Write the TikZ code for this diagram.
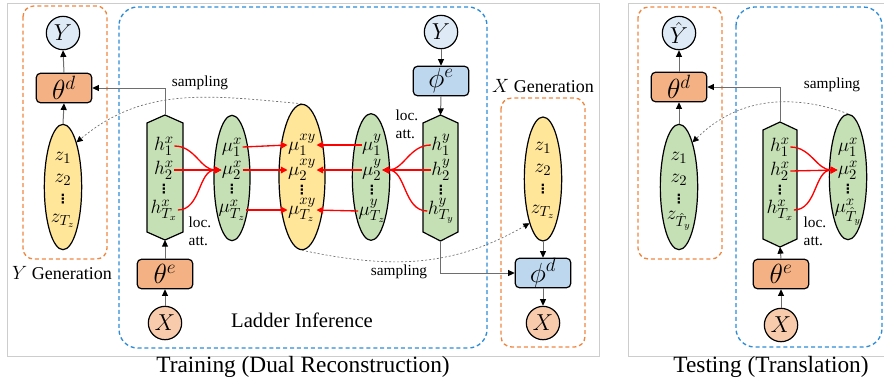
\documentclass[tikz,border=0pt]{standalone}
\usepackage{fontspec}
\setmainfont{Liberation Serif}
\newfontfamily\dejavu{DejaVu Sans}
\usetikzlibrary{arrows.meta,shapes.geometric}

\definecolor{framegray}{RGB}{205,205,205}
\definecolor{linegray}{RGB}{110,110,110}
\definecolor{gendash}{RGB}{240,135,65}
\definecolor{laddash}{RGB}{45,140,215}
\definecolor{thetafill}{RGB}{244,177,131}
\definecolor{xfill}{RGB}{248,203,173}
\definecolor{yfill}{RGB}{222,235,247}
\definecolor{phifill}{RGB}{189,215,238}
\definecolor{greenfill}{RGB}{197,224,180}
\definecolor{zfill}{RGB}{255,230,153}

\newcommand{\vdotz}{{\dejavu\bfseries ⋮}}

\tikzset{every picture/.style={line width=0.75pt}}
\tikzset{
  panel/.style={draw=framegray, line width=0.6pt},
  genbox/.style={draw=gendash, line width=1pt, dash pattern=on 3pt off 2.2pt, rounded corners=8pt},
  ladbox/.style={draw=laddash, line width=1pt, dash pattern=on 3pt off 2.2pt, rounded corners=14pt},
  thetabox/.style={draw=black, fill=thetafill, line width=0.9pt, rounded corners=3pt, minimum width=41.5pt, minimum height=22pt, inner sep=0pt, font=\fontsize{20}{22}\selectfont},
  phibox/.style={thetabox, fill=phifill},
  xcirc/.style={circle, draw=black, fill=xfill, line width=0.9pt, minimum size=25pt, inner sep=0pt, font=\fontsize{18.5}{20}\selectfont},
  ycirc/.style={xcirc, fill=yfill},
  zell/.style={ellipse, draw=black, fill=zfill, line width=0.9pt, minimum width=28pt, minimum height=94pt, inner sep=0pt},
  muell/.style={zell, fill=greenfill},
  hexbox/.style={draw=black, fill=greenfill, line width=0.9pt},
  lab/.style={inner sep=0pt, font=\fontsize{15}{16}\selectfont},
  vdot/.style={inner sep=0pt, font=\fontsize{9.5}{10}\selectfont},
  note/.style={inner sep=0.75pt, align=left, font=\fontsize{11.5}{13.5}\selectfont},
  gentext/.style={inner sep=0.75pt, font=\fontsize{13.5}{15}\selectfont},
  title/.style={inner sep=0.75pt, font=\fontsize{17.5}{19}\selectfont},
  garrow/.style={draw=linegray, line width=0.75pt, -{Triangle[length=5pt,width=4.5pt,color=black]}},
  rarrow/.style={draw=red, line width=1pt, -{Triangle[length=5pt,width=5pt]}},
  samp/.style={draw=linegray, line width=0.5pt, dash pattern=on 1.5pt off 1.5pt, -{Triangle[length=4.5pt,width=4.5pt,color=black]}}
}

\begin{document}
\begin{tikzpicture}[x=0.75pt,y=0.75pt,yscale=-1,xscale=1]
\useasboundingbox (0,0) rectangle (884,380);

%Panels
\draw [panel] (7,3) rectangle (599,356);
\draw [panel] (628,3) rectangle (890,356);
\draw [genbox] (23,6) rectangle (107,259);
\draw [ladbox] (119,7) rectangle (487,348);
\draw [genbox] (501,98) rectangle (585,347);
\draw [genbox] (638,7) rectangle (722,259);
\draw [ladbox] (736,7) rectangle (882,347);

%Y generation (training)
\node [ycirc] (Yl) at (63,33) {$Y$};
\node [thetabox] (thetadl) at (64,88) {$\theta^{d}$};
\node [zell] (zY) at (63,187) {};
\node [lab] (zY1) at (63,158) {$z_{1}$};
\node [lab] (zY2) at (63,180) {$z_{2}$};
\node [vdot] (zYd) at (63,199) {\vdotz};
\node [lab] (zYT) at (63,221) {$z_{T_z}$};

%Ladder inference, x side
\draw [hexbox] (147,123) -- (165,115) -- (183,123) -- (183,232) -- (165,240) -- (147,232) -- cycle;
\coordinate (hxtop) at (165,115);
\coordinate (hxbot) at (165,240);
\node [lab] (hx1) at (164,146) {$h^{x}_{1}$};
\node [lab] (hx2) at (164,170) {$h^{x}_{2}$};
\node [vdot] (hxd) at (164,189) {\vdotz};
\node [lab] (hxT) at (164,210) {$h^{x}_{T_x}$};
\node [thetabox] (thetael) at (165,274) {$\theta^{e}$};
\node [xcirc] (Xl) at (165,323) {$X$};

\node [muell, minimum width=27pt] (mux) at (232,178) {};
\node [lab] (mux1) at (232,147) {$\mu^{x}_{1}$};
\node [lab] (mux2) at (232,170) {$\mu^{x}_{2}$};
\node [vdot] (muxd) at (232,189) {\vdotz};
\node [lab] (muxT) at (232,210) {$\mu^{x}_{T_z}$};

\node [zell, minimum width=34.5pt, minimum height=109pt] (muxy) at (302,177) {};
\node [lab] (muxy1) at (302,145) {$\mu^{xy}_{1}$};
\node [lab] (muxy2) at (302,170) {$\mu^{xy}_{2}$};
\node [vdot] (muxyd) at (302,190) {\vdotz};
\node [lab] (muxyT) at (302,210) {$\mu^{xy}_{T_z}$};

%Ladder inference, y side
\node [muell, minimum height=95pt] (muy) at (371,177) {};
\node [lab] (muy1) at (372,145) {$\mu^{y}_{1}$};
\node [lab] (muy2) at (372,170) {$\mu^{y}_{2}$};
\node [vdot] (muyd) at (372,190) {\vdotz};
\node [lab] (muyT) at (372,211) {$\mu^{y}_{T_z}$};

\draw [hexbox] (423,123) -- (440.5,115) -- (458,123) -- (458,232) -- (440.5,241) -- (423,232) -- cycle;
\coordinate (hytop) at (440.5,115);
\coordinate (hybot) at (440.5,241);
\node [lab] (hy1) at (441,145) {$h^{y}_{1}$};
\node [lab] (hy2) at (441,170) {$h^{y}_{2}$};
\node [vdot] (hyd) at (441,190) {\vdotz};
\node [lab] (hyT) at (441,211) {$h^{y}_{T_y}$};
\node [ycirc] (Yr) at (441,32) {$Y$};
\node [phibox] (phie) at (441,81) {$\phi^{e}$};

%X generation (training)
\node [zell, minimum height=93pt] (zX) at (543,179) {};
\node [lab] (zX1) at (543,148) {$z_{1}$};
\node [lab] (zX2) at (543,170) {$z_{2}$};
\node [vdot] (zXd) at (543,189) {\vdotz};
\node [lab] (zXT) at (543,212) {$z_{T_z}$};
\node [phibox] (phid) at (543,273) {$\phi^{d}$};
\node [xcirc] (Xr) at (543,323) {$X$};

%Testing
\node [ycirc] (tY) at (679,33) {$\hat{Y}$};
\node [thetabox] (tthetad) at (679,87) {$\theta^{d}$};
\node [muell] (tz) at (679,187) {};
\node [lab] (tz1) at (679,158) {$z_{1}$};
\node [lab] (tz2) at (679,180) {$z_{2}$};
\node [vdot] (tzd) at (679,199) {\vdotz};
\node [lab] (tzT) at (679,221) {$z_{\hat{T}_y}$};

\draw [hexbox] (763,130) -- (780,122) -- (797,130) -- (797,239) -- (780,247) -- (763,239) -- cycle;
\coordinate (thxtop) at (780,122);
\coordinate (thxbot) at (780,247);
\node [lab] (thx1) at (780,147) {$h^{x}_{1}$};
\node [lab] (thx2) at (780,171) {$h^{x}_{2}$};
\node [vdot] (thxd) at (780,190) {\vdotz};
\node [lab] (thxT) at (780,210) {$h^{x}_{T_x}$};
\node [thetabox] (tthetae) at (781,274) {$\theta^{e}$};
\node [xcirc] (tX) at (781,325) {$X$};

\node [muell] (tmux) at (848,177) {};
\node [lab] (tmux1) at (848,147) {$\mu^{x}_{1}$};
\node [lab] (tmux2) at (848,170) {$\mu^{x}_{2}$};
\node [vdot] (tmuxd) at (848,189) {\vdotz};
\node [lab] (tmuxT) at (848,212) {$\mu^{x}_{\hat{T}_y}$};

%Gray connectors
\draw [garrow] (thetadl.north) -- (Yl.south);
\draw [garrow] (zY.north) -- (thetadl.south);
\draw [garrow] (hxtop) |- (thetadl.east);
\draw [garrow] (thetael.north) -- (hxbot);
\draw [garrow] (Xl.north) -- (thetael.south);
\draw [garrow] (Yr.south) -- (phie.north);
\draw [garrow] (phie.south) -- (hytop);
\draw [garrow] (hybot) |- (phid.west);
\draw [garrow] (zX.south) -- (phid.north);
\draw [garrow] (phid.south) -- (Xr.north);
\draw [garrow] (tthetad.north) -- (tY.south);
\draw [garrow] (tz.north) -- (tthetad.south);
\draw [garrow] (thxtop) |- (tthetad.east);
\draw [garrow] (tthetae.north) -- (thxbot);
\draw [garrow] (tX.north) -- (tthetae.south);

%Local attention
\draw [rarrow] (hx1.east) to[out=0,in=180] (mux2.west);
\draw [rarrow] (hx2.east) -- (mux2.west);
\draw [rarrow] (hxT.east) to[out=0,in=180] (mux2.west);
\draw [rarrow] (hy1.west) to[out=180,in=0] (muy2.east);
\draw [rarrow] (hy2.west) -- (muy2.east);
\draw [rarrow] (hyT.west) to[out=180,in=0] (muy2.east);
\draw [rarrow] (thx1.east) to[out=0,in=180] (tmux2.west);
\draw [rarrow] (thx2.east) -- (tmux2.west);
\draw [rarrow] (thxT.east) to[out=0,in=180] (tmux2.west);

%Ladder
\draw [rarrow] (mux1.east) -- (muxy1.west);
\draw [rarrow] (mux2.east) -- (muxy2.west);
\draw [rarrow] (muxT.east) -- (muxyT.west);
\draw [rarrow] (muy1.west) -- (muxy1.east);
\draw [rarrow] (muy2.west) -- (muxy2.east);
\draw [rarrow] (muyT.west) -- (muxyT.east);

%Sampling (angles are flipped by yscale=-1)
\draw [samp] (muxy.north) to[out=185,in=-40] (zY.north east);
\draw [samp] (muxy.south) to[out=12,in=150] (zX.south west);
\draw [samp] (tmux.north) to[out=200,in=-45] (tz.north east);

% Text Node
\node [note] (samp1) at (200,83) {sampling};
\node [note] (samp2) at (399,272) {sampling};
\node [note] (samp3) at (832,85) {sampling};
\node [note] (att1) at (200,231) {loc.\\att.};
\node [note] (att2) at (407,124) {loc.\\att.};
\node [note] (att3) at (815,231) {loc.\\att.};
\node [gentext] (ygen) at (62,273) {$Y$ Generation};
\node [gentext] (xgen) at (543,86) {$X$ Generation};
\node [gentext, font=\fontsize{15.5}{17}\selectfont] (ladder) at (302,320) {Ladder Inference};
\node [title] (train) at (303,367) {Training (Dual Reconstruction)};
\node [title] (test) at (771,367) {Testing (Translation)};

\end{tikzpicture}
\end{document}
